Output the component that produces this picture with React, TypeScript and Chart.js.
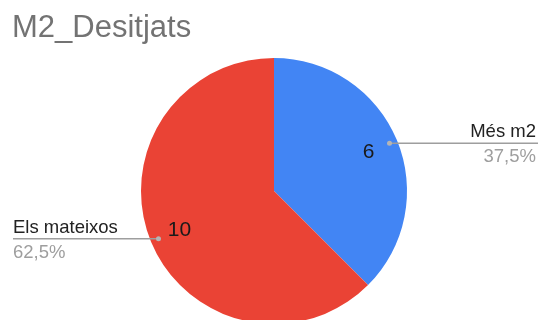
import React, { useEffect, useRef } from "react";
import { Chart, registerables } from "chart.js";

Chart.register(...registerables);

const title = "M2_Desitjats";
const categories = ["Més m2", "Els mateixos"];
const values = [6, 10];
const percentLabels = ["37,5%", "62,5%"];
const colors = ["#4285F4", "#EA4335"];

const FONT = "'Liberation Sans', Arial, sans-serif";

const labelPlugin = {
  id: "pieLabels",
  afterDraw(chart: any) {
    const ctx = chart.ctx;
    const meta = chart.getDatasetMeta(0);
    const W = chart.width;
    ctx.save();
    // title
    ctx.font = `31px ${FONT}`;
    ctx.fillStyle = "#737373";
    ctx.textAlign = "left";
    ctx.textBaseline = "alphabetic";
    ctx.fillText(title, 12, 37);

    meta.data.forEach((arc: any, i: number) => {
      const mid = (arc.startAngle + arc.endAngle) / 2;
      const R = arc.outerRadius;
      const cx = arc.x;
      const cy = arc.y;
      // value inside
      const vr = R * 0.77;
      ctx.font = `21px ${FONT}`;
      ctx.fillStyle = "#1a1a1a";
      ctx.textAlign = "center";
      ctx.textBaseline = "middle";
      ctx.fillText(String(values[i]), cx + Math.cos(mid) * vr, cy + Math.sin(mid) * vr);

      // leader dot + line
      const dr = R * 0.94;
      const dx = cx + Math.cos(mid) * dr;
      const dy = cy + Math.sin(mid) * dr;
      const right = Math.cos(mid) >= 0;
      const endX = right ? W : 13;
      ctx.strokeStyle = "#9e9e9e";
      ctx.lineWidth = 1.5;
      ctx.beginPath();
      ctx.moveTo(dx, dy);
      ctx.lineTo(endX, dy);
      ctx.stroke();
      ctx.fillStyle = "#b5b5b5";
      ctx.beginPath();
      ctx.arc(dx, dy, 2.5, 0, Math.PI * 2);
      ctx.fill();

      // texts
      const tx = right ? W - 2 : 13;
      ctx.textAlign = right ? "right" : "left";
      ctx.textBaseline = "alphabetic";
      ctx.font = `18.5px ${FONT}`;
      ctx.fillStyle = "#222222";
      ctx.fillText(categories[i], tx, dy - 6);
      ctx.fillStyle = "#9e9e9e";
      ctx.fillText(percentLabels[i], tx, dy + 19);
    });
    ctx.restore();
  },
};

export default function App() {
  const ref = useRef<HTMLCanvasElement>(null);
  useEffect(() => {
    document.body.style.margin = "0";
    document.body.style.overflow = "hidden";
    const chart = new Chart(ref.current!, {
      type: "pie",
      data: {
        labels: categories,
        datasets: [
          {
            data: values,
            backgroundColor: colors,
            borderWidth: 0,
          },
        ],
      },
      options: {
        responsive: false,
        animation: false,
        layout: { padding: { left: 141, right: 131, top: 58, bottom: 16 } },
        plugins: {
          legend: { display: false },
          title: { display: false },
          tooltip: { enabled: false },
        },
      },
      plugins: [labelPlugin],
    });
    return () => chart.destroy();
  }, []);
  return (
    <div style={{ width: 538, height: 340, background: "#fff" }}>
      <canvas ref={ref} width={538} height={340} />
    </div>
  );
}
